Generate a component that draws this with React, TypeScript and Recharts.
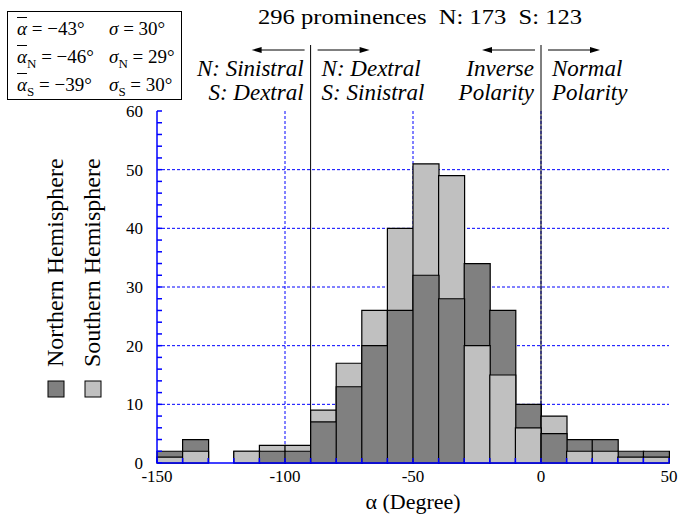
import { ComposedChart, Bar, XAxis, YAxis, CartesianGrid, ReferenceLine, Cell } from "recharts";

const binCenters = [-145, -135, -125, -115, -105, -95, -85, -75, -65, -55, -45, -35, -25, -15, -5, 5, 15, 25, 35, 45];
const northCounts = [1, 2, 0, 0, 2, 2, 7, 13, 20, 26, 32, 28, 14, 11, 4, 5, 2, 2, 1, 1];
const southCounts = [1, 2, 0, 2, 1, 1, 2, 4, 6, 14, 19, 21, 20, 15, 6, 3, 2, 2, 1, 1];

const xTicks = [-150, -140, -130, -120, -110, -100, -90, -80, -70, -60, -50, -40, -30, -20, -10, 0, 10, 20, 30, 40, 50];
const xLabels = [-150, -100, -50, 0, 50];
const yTicks = [0, 2, 4, 6, 8, 10, 12, 14, 16, 18, 20, 22, 24, 26, 28, 30, 32, 34, 36, 38, 40, 42, 44, 46, 48, 50, 52, 54, 56, 58, 60];
const yLabels = [0, 10, 20, 30, 40, 50, 60];
const gridX = [-100, -50, 0];
const gridY = [10, 20, 30, 40, 50];

const dividers = [
  { x: -90, left: ["N: Sinistral", "S: Dextral"], right: ["N: Dextral", "S: Sinistral"] },
  { x: 0, left: ["Inverse", "Polarity"], right: ["Normal", "Polarity"] },
];

const DARK = "#808080";
const LIGHT = "#c0c0c0";
const BLUE = "#0000ff";
const serif = '"Times New Roman", "Liberation Serif", Times, "DejaVu Serif", serif';

// the larger count is drawn at the bottom of each bin (ties: south first),
// the smaller one sits on top of it, so the full bar is N + S
const data = binCenters.map((mid, i) => {
  const n = northCounts[i];
  const s = southCounts[i];
  const northLow = n > s;
  return {
    mid,
    total: n + s,
    lower: northLow ? n : s,
    lowerColor: northLow ? DARK : LIGHT,
    upperColor: northLow ? LIGHT : DARK,
  };
});

function Arrow({ from, to, y }: { from: number; to: number; y: number }) {
  const dir = to > from ? 1 : -1;
  return (
    <g>
      <line x1={from} x2={to - dir * 4} y1={y} y2={y} stroke="#000" strokeWidth={1} />
      <path d={`M${to},${y} L${to - dir * 10},${y - 3} L${to - dir * 10},${y + 3} Z`} fill="#000" />
    </g>
  );
}

const makeDivider = (d: { left: string[]; right: string[] }) => (p: any) => {
  const x = p.x1;
  const bottom = Math.max(p.y1, p.y2);
  const txt = { fontFamily: serif, fontSize: 23, fontStyle: "italic" as const, fill: "#000" };
  return (
    <g>
      <line x1={x} x2={x} y1={45} y2={bottom} stroke="#000" strokeWidth={1} />
      <Arrow from={x - 6} to={x - 59} y={50} />
      <Arrow from={x + 7} to={x + 59} y={50} />
      <text x={x - 7} y={76} textAnchor="end" {...txt}>{d.left[0]}</text>
      <text x={x - 7} y={100} textAnchor="end" {...txt}>{d.left[1]}</text>
      <text x={x + 11} y={76} textAnchor="start" {...txt}>{d.right[0]}</text>
      <text x={x + 11} y={100} textAnchor="start" {...txt}>{d.right[1]}</text>
    </g>
  );
};

const tickStyle = { fontFamily: serif, fontSize: 17, fill: "#000" };

function StatsBox() {
  const cell = { fontFamily: serif, fontSize: 19, lineHeight: "27px", whiteSpace: "nowrap" as const };
  const sym = (g: string, bar: boolean) => (
    <span style={{ fontStyle: "italic", textDecoration: bar ? "overline" : "none" }}>{g}</span>
  );
  const sub = (t: string) => <sub style={{ fontSize: 13, lineHeight: 0 }}>{t}</sub>;
  return (
    <div
      style={{
        position: "absolute",
        left: 7,
        top: 11,
        width: 175,
        height: 89,
        border: "1.5px solid #000",
        boxSizing: "border-box",
        padding: "3px 0 0 9px",
        display: "grid",
        gridTemplateColumns: "92px 80px",
      }}
    >
      <div style={cell}>{sym("α", true)} = −43°</div>
      <div style={cell}>{sym("σ", false)} = 30°</div>
      <div style={cell}>{sym("α", true)}{sub("N")} = −46°</div>
      <div style={cell}>{sym("σ", false)}{sub("N")} = 29°</div>
      <div style={cell}>{sym("α", true)}{sub("S")} = −39°</div>
      <div style={cell}>{sym("σ", false)}{sub("S")} = 30°</div>
    </div>
  );
}

function SideLegend() {
  const items = [
    { name: "Northern Hemisphere", color: DARK, x: 48 },
    { name: "Southern Hemisphere", color: LIGHT, x: 85 },
  ];
  return (
    <svg width={120} height={420} style={{ position: "absolute", left: 0, top: 0 }}>
      {items.map((it) => (
        <g key={it.name}>
          <text
            transform={`translate(${it.x + 15},367) rotate(-90)`}
            fontFamily={serif}
            fontSize={24}
            fill="#000"
          >
            {it.name}
          </text>
          <rect x={it.x} y={381} width={16} height={16} fill={it.color} stroke="#000" strokeWidth={1} />
        </g>
      ))}
    </svg>
  );
}

export default function App() {
  return (
    <div style={{ position: "absolute", left: 0, top: 0, width: 682, height: 515, background: "#fff" }}>
      <ComposedChart
        width={682}
        height={515}
        data={data}
        margin={{ top: 111, right: 13, bottom: 0, left: 117 }}
        barCategoryGap={0}
        barGap={0}
      >
        <CartesianGrid
          xAxisId="bottom"
          yAxisId="left"
          verticalValues={gridX}
          horizontalValues={gridY}
          stroke={BLUE}
          strokeDasharray="3 2"
          strokeWidth={1}
        />
        <Bar xAxisId="bottom" yAxisId="left" dataKey="total" stroke="#000" strokeWidth={1.2} isAnimationActive={false}>
          {data.map((d) => (
            <Cell key={d.mid} fill={d.upperColor} />
          ))}
        </Bar>
        <Bar xAxisId="top" yAxisId="right" dataKey="lower" stroke="#000" strokeWidth={1.2} isAnimationActive={false}>
          {data.map((d) => (
            <Cell key={d.mid} fill={d.lowerColor} />
          ))}
        </Bar>
        <XAxis
          xAxisId="bottom"
          dataKey="mid"
          type="number"
          domain={[-150, 50]}
          ticks={xTicks}
          interval={0}
          height={52}
          tickSize={-5}
          tickMargin={12}
          tickFormatter={(v: number) => (xLabels.includes(v) ? String(v) : "")}
          tick={tickStyle}
          stroke={BLUE}
          strokeWidth={1.5}
          label={{ value: "α (Degree)", position: "insideBottom", offset: 6, fontFamily: serif, fontSize: 22, fill: "#000" }}
        />
        <XAxis
          xAxisId="top"
          dataKey="mid"
          orientation="top"
          type="number"
          domain={[-150, 50]}
          ticks={xTicks}
          interval={0}
          height={0}
          tickSize={-5}
          tick={false}
          stroke={BLUE}
          strokeWidth={1.5}
        />
        <YAxis
          yAxisId="left"
          type="number"
          domain={[0, 60]}
          ticks={yTicks}
          interval={0}
          width={40}
          tickSize={-5}
          tickMargin={19}
          tickFormatter={(v: number) => (yLabels.includes(v) ? String(v) : "")}
          tick={tickStyle}
          stroke={BLUE}
          strokeWidth={1.5}
        />
        <YAxis
          yAxisId="right"
          orientation="right"
          type="number"
          domain={[0, 60]}
          ticks={yTicks}
          interval={0}
          width={0}
          tickSize={-5}
          tick={false}
          stroke={BLUE}
          strokeWidth={1.5}
        />
        {dividers.map((d) => (
          <ReferenceLine key={d.x} xAxisId="bottom" yAxisId="left" x={d.x} stroke="#000" shape={makeDivider(d)} />
        ))}
      </ComposedChart>
      <div
        style={{
          position: "absolute",
          left: 420,
          top: 5,
          transform: "translateX(-50%) scaleX(1.17)",
          fontFamily: serif,
          fontSize: 21,
          whiteSpace: "pre",
        }}
      >
        {"296 prominences  N: 173  S: 123"}
      </div>
      <StatsBox />
      <SideLegend />
    </div>
  );
}
